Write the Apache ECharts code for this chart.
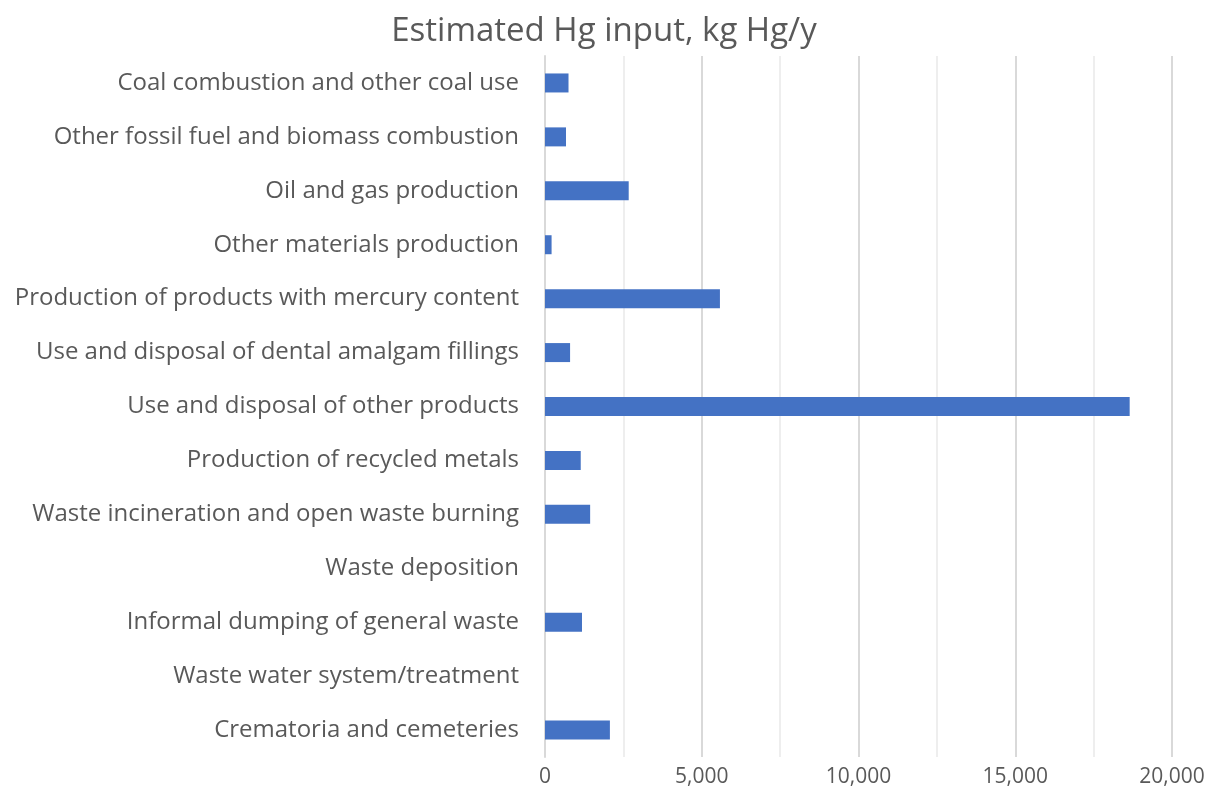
<!DOCTYPE html>
<html>
<head>
<meta charset="utf-8">
<script src="https://cdn.jsdelivr.net/npm/echarts@6/dist/echarts.min.js"></script>
<style>
  html, body { margin: 0; padding: 0; background: #fff; }
  #chart { width: 1208px; height: 801px; }
</style>
</head>
<body>
<div id="chart"></div>
<script>
const sources = [
  "Coal combustion and other coal use",
  "Other fossil fuel and biomass combustion",
  "Oil and gas production",
  "Other materials production",
  "Production of products with mercury content",
  "Use and disposal of dental amalgam fillings",
  "Use and disposal of other products",
  "Production of recycled metals",
  "Waste incineration and open waste burning",
  "Waste deposition",
  "Informal dumping of general waste",
  "Waste water system/treatment",
  "Crematoria and cemeteries"
];
const hgInput = [750, 670, 2670, 210, 5580, 800, 18650, 1140, 1440, 0, 1180, 0, 2070];

const font = "'Open Sans', sans-serif";
const chart = echarts.init(document.getElementById("chart"));

chart.setOption({
  animation: false,
  title: {
    text: "Estimated Hg input, kg Hg/y",
    left: "center",
    top: 10,
    textStyle: { fontFamily: font, fontSize: 33, fontWeight: "normal", color: "#595959" }
  },
  grid: { left: 545, right: 36, top: 56, bottom: 44 },
  xAxis: {
    type: "value",
    min: 0,
    max: 20000,
    interval: 5000,
    axisLine: { show: false },
    axisTick: { show: false },
    axisLabel: {
      fontFamily: font, fontSize: 21, color: "#595959", margin: 10,
      formatter: v => v.toLocaleString("en-US")
    },
    splitLine: { show: true, lineStyle: { color: "#d9d9d9", width: 2 } },
    minorTick: { show: false, splitNumber: 2 },
    minorSplitLine: { show: true, lineStyle: { color: "#eeeeee", width: 2 } }
  },
  yAxis: {
    type: "category",
    data: sources,
    inverse: true,
    axisLine: { show: true, lineStyle: { color: "#d9d9d9", width: 2 } },
    axisTick: { show: false },
    axisLabel: { fontFamily: font, fontSize: 24, color: "#595959", margin: 26, padding: [9, 0, 0, 0] }
  },
  series: [{
    type: "bar",
    data: hgInput,
    barWidth: 19,
    itemStyle: { color: "#4472C4" }
  }]
});
</script>
</body>
</html>
